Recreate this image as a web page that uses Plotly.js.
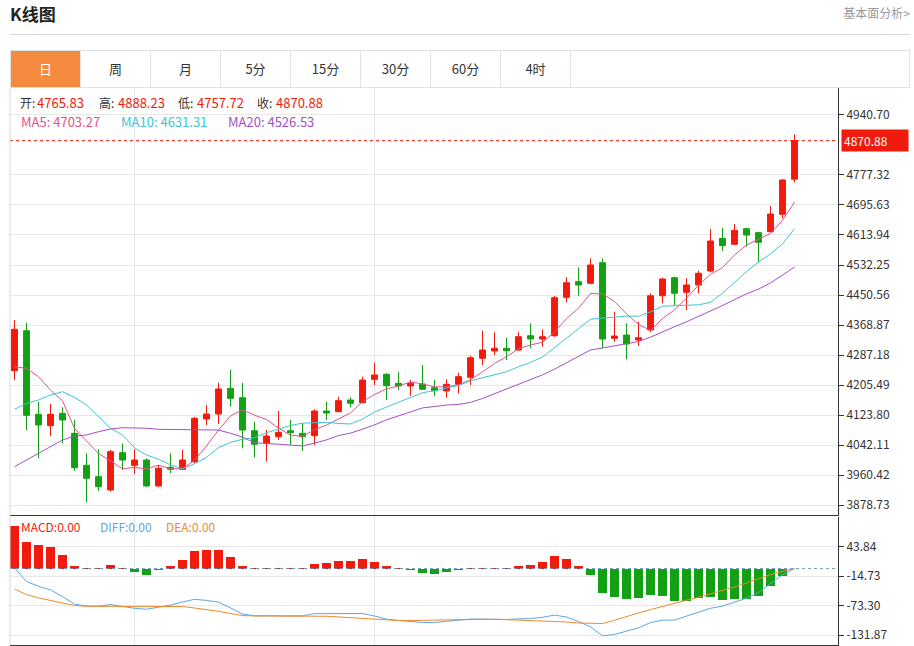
<!DOCTYPE html>
<html><head><meta charset="utf-8">
<script src="https://cdn.plot.ly/plotly-3.0.1.min.js"></script>
<style>
body{margin:0;background:#fff;width:914px;height:646px;overflow:hidden;font-family:"Noto Sans CJK SC","Noto Sans",sans-serif;}
#chart{position:absolute;left:0;top:0;width:914px;height:646px;}
#title{position:absolute;left:10px;top:2px;font-size:17px;font-weight:bold;color:#222;line-height:24px;}
#link{position:absolute;right:4px;top:4px;font-size:12px;color:#999;line-height:18px;}
#rule{position:absolute;left:10px;top:34px;width:900px;height:1px;background:#d9d9d9;}
#tabs{position:absolute;left:10px;top:50px;width:900px;height:38px;border:1px solid #e2e2e2;box-sizing:border-box;display:flex;}
#tabs span{display:block;width:70px;height:36px;line-height:36px;text-align:center;font-size:13px;color:#333;border-right:1px solid #e2e2e2;box-sizing:border-box;}
#tabs span.on{background:#f58b3e;color:#fff;}
</style></head><body>
<div id="chart"></div>
<div id="title">K线图</div>
<div id="link">基本面分析&gt;</div>
<div id="rule"></div>
<div id="tabs"></div>
<script>
// ---------- data ----------
const tabLabels = ['日','周','月','5分','15分','30分','60分','4时'];

const openP = [4244.4,4353.3,4125.7,4094.6,4128.4,4073.9,3986.8,3955.8,3919.6,4021.2,
3986.8,4001.3,3930.5,3981.4,3975.9,3996.6,4112.9,4126.5,4196.5,4170.9,
4081.0,4047.5,4064.7,4081.0,4073.9,4067.4,4134.7,4132.8,4164.6,4157.3,
4221.0,4234.6,4210.1,4202.8,4208.2,4198.1,4189.2,4207.4,4226.4,4278.2,
4298.0,4305.4,4300.8,4339.7,4330.7,4339.7,4444.3,4486.8,4482.4,4538.5,
4332.6,4341.6,4328.0,4355.2,4448.6,4497.7,4457.9,4477.8,4515.9,4604.9,
4588.6,4631.1,4620.2,4622.9,4670.3,4765.83];

const highP = [4382.5,4375.1,4160.0,4153.8,4144.8,4110.2,4019.5,4030.4,4028.5,4046.7,
4030.4,4005.9,3987.6,4019.5,4028.5,4118.4,4151.0,4211.7,4246.3,4211.7,
4105.5,4082.9,4134.7,4110.2,4101.2,4139.3,4160.0,4173.6,4172.0,4228.1,
4266.2,4237.4,4240.0,4219.1,4259.9,4219.1,4221.0,4239.0,4285.3,4353.3,
4349.0,4334.3,4349.0,4373.5,4357.1,4447.8,4498.7,4526.0,4550.5,4550.5,
4405.1,4373.5,4377.8,4455.2,4497.7,4500.4,4496.0,4516.7,4630.2,4633.8,
4643.9,4633.8,4622.9,4692.9,4766.4,4888.23];

const lowP = [4219.1,4082.9,4005.9,4066.6,4046.7,3972.1,3886.1,3916.8,3915.0,3974.0,
3963.1,3928.5,3928.0,3965.0,3974.0,3993.1,4096.5,4099.3,4146.4,4033.1,
4008.6,3997.5,4055.7,4042.1,4025.8,4042.1,4110.2,4132.0,4144.8,4155.7,
4205.5,4164.6,4191.8,4175.5,4193.8,4175.5,4170.9,4182.9,4205.5,4259.9,
4287.2,4273.5,4298.9,4305.4,4309.7,4337.0,4430.7,4448.6,4479.9,4305.4,
4323.4,4275.4,4311.7,4349.0,4427.9,4423.3,4409.7,4455.2,4512.3,4570.3,
4586.7,4582.1,4539.6,4621.3,4659.4,4757.72];

const closeP = [4357.1,4123.0,4096.6,4125.7,4110.2,3980.3,3951.4,3928.5,4023.9,4001.3,
4001.3,3930.5,3978.6,3975.9,4001.3,4114.8,4126.5,4194.6,4169.2,4082.9,
4044.0,4066.6,4076.7,4075.6,4064.7,4134.7,4129.2,4162.7,4155.7,4219.1,
4232.7,4203.6,4202.8,4210.1,4193.8,4189.9,4207.4,4228.1,4279.8,4300.8,
4305.4,4298.9,4337.0,4330.7,4337.0,4443.2,4484.0,4477.8,4532.2,4330.7,
4338.9,4317.1,4334.3,4448.6,4494.1,4455.2,4477.8,4509.6,4597.6,4584.8,
4626.7,4613.9,4594.0,4671.1,4763.7,4870.88];

const ma5 = [4255.3,4250.9,4228.1,4191.8,4162.5,4087.2,4052.8,4019.2,3998.9,3977.1,
3981.3,3977.1,3987.1,3977.5,3977.5,4000.2,4039.4,4082.6,4121.3,4137.6,
4123.4,4111.5,4087.9,4069.2,4065.5,4083.7,4096.2,4113.4,4129.4,4160.3,
4179.9,4194.8,4202.8,4213.7,4208.6,4200.0,4200.8,4205.9,4219.8,4241.2,
4264.3,4282.6,4304.4,4314.6,4321.8,4349.4,4386.4,4414.5,4454.8,4453.6,
4432.7,4399.3,4370.6,4353.9,4386.6,4409.9,4442.0,4477.1,4506.9,4525.0,
4559.3,4586.5,4603.4,4618.1,4653.9,4703.27];

const ma10 = [4139.3,4155.6,4164.6,4178.2,4187.2,4172.0,4151.0,4119.1,4087.6,4069.8,
4034.3,4015.0,4003.2,3988.2,3977.3,3990.8,4008.3,4034.9,4049.4,4057.6,
4061.8,4075.5,4085.3,4095.3,4101.6,4103.6,4103.9,4100.7,4099.3,4112.9,
4131.8,4145.5,4158.1,4171.6,4184.5,4190.0,4197.8,4204.4,4216.8,4224.9,
4232.2,4241.7,4255.2,4267.2,4281.5,4306.9,4334.5,4359.5,4384.7,4387.7,
4391.1,4392.9,4392.6,4404.4,4420.1,4421.3,4420.7,4423.9,4430.4,4455.8,
4484.6,4514.3,4540.3,4562.5,4589.5,4631.31];

const ma20 = [3983.0,4001.2,4019.5,4037.5,4055.7,4066.6,4069.3,4078.3,4085.6,4089.2,
4089.2,4087.6,4084.8,4084.8,4084.8,4084.8,4084.8,4082.9,4073.9,4063.7,
4048.1,4045.3,4044.3,4041.8,4039.5,4047.2,4056.1,4067.8,4074.4,4085.3,
4096.8,4110.5,4121.7,4133.5,4143.1,4146.8,4150.9,4152.6,4158.1,4168.9,
4182.0,4193.6,4206.7,4219.4,4233.0,4248.5,4266.2,4282.0,4300.8,4306.3,
4311.7,4317.3,4323.9,4335.8,4350.8,4364.1,4377.6,4391.7,4407.6,4421.8,
4437.9,4453.6,4466.5,4483.5,4504.8,4526.53];

const macdHist = [84.0,52.2,46.3,42.3,27.8,6.0,0.6,0.3,6.6,0.3,
-6.7,-11.9,-3.4,4.6,17.9,34.3,36.3,36.3,22.4,6.0,
0.4,0.3,0.2,0.3,0.5,9.1,11.1,14.5,15.9,19.1,
13.1,4.6,0.5,-3.4,-8.7,-9.9,-7.3,-3.4,0.8,0.8,
0.3,0.5,4.6,6.6,13.1,24.4,19.9,6.0,-12.7,-48.4,
-56.4,-60.4,-59.0,-51.6,-55.2,-65.1,-63.7,-58.4,-57.0,-61.5,
-59.6,-60.4,-55.2,-35.1,-13.9,0];

const diffL = [1.5,-25.6,-35.1,-42.3,-55.6,-70.4,-74.5,-74.6,-71.5,-75.2,
-78.8,-80.8,-76.5,-72.5,-66.4,-61.0,-63.2,-66.6,-78.1,-90.3,
-93.8,-93.9,-93.9,-93.9,-93.8,-89.5,-89.2,-88.8,-89.4,-89.2,
-94.1,-100.3,-103.0,-104.9,-107.0,-107.0,-105.0,-102.3,-100.2,-100.2,
-100.5,-101.1,-99.7,-99.3,-96.7,-92.4,-96.1,-105.0,-115.6,-133.4,
-130.8,-124.9,-117.6,-107.2,-102.4,-102.1,-94.8,-86.2,-78.9,-74.5,
-66.3,-58.8,-47.5,-29.5,-12.4,0];

const deaL = [-40.5,-51.7,-58.3,-63.5,-69.5,-73.4,-74.8,-74.8,-74.8,-75.4,
-75.4,-74.8,-74.8,-74.8,-75.4,-78.2,-81.4,-84.8,-89.3,-93.3,
-94.0,-94.0,-94.0,-94.0,-94.0,-94.0,-94.7,-96.0,-97.3,-98.7,
-100.6,-102.6,-103.2,-103.2,-102.6,-102.0,-101.3,-100.6,-100.6,-100.6,
-100.6,-101.3,-102.0,-102.6,-103.2,-104.6,-106.0,-108.0,-109.2,-109.2,
-102.6,-94.7,-88.1,-81.4,-74.8,-69.5,-62.9,-57.0,-50.4,-43.7,
-36.5,-28.6,-19.9,-11.9,-5.4,0];

const priceTickLabels = ['3878.73','3960.42','4042.11','4123.80','4205.49','4287.18','4368.87',
'4450.56','4532.25','4613.94','4695.63','4777.32','4940.70'];
const macdTickLabels = ['43.84','-14.73','-73.30','-131.87'];
const gridDays = [10, 30];

// ---------- style ----------
const RED = '#f11b0d', GREEN = '#14a014';
const C_MA5 = '#e4538c', C_MA10 = '#3ec6d4', C_MA20 = '#a350c4';
const C_DIFF = '#5ba8e6', C_DEA = '#f08a2c';
const FONT = '"Noto Sans CJK SC","Noto Sans",sans-serif';

// tabs
const tabs = document.getElementById('tabs');
tabLabels.forEach((t,i)=>{const s=document.createElement('span');s.textContent=t;if(i===0)s.className='on';tabs.appendChild(s);});

const idx = closeP.map((_,i)=>i);
const n = closeP.length;

// pixel helpers for plot area (x 10..838, y 88..645)
const pa = px => (px-10)/828;
const pb = py => (645-py)/557;

const traces = [
 {type:'candlestick', x:idx, open:openP, high:highP, low:lowP, close:closeP,
  xaxis:'x', yaxis:'y', whiskerwidth:0, hoverinfo:'skip',
  increasing:{line:{color:RED,width:1}, fillcolor:RED},
  decreasing:{line:{color:GREEN,width:1}, fillcolor:GREEN}},
 {type:'scatter', mode:'lines', x:idx, y:ma5, xaxis:'x', yaxis:'y', line:{color:C_MA5,width:1}, hoverinfo:'skip'},
 {type:'scatter', mode:'lines', x:idx, y:ma10, xaxis:'x', yaxis:'y', line:{color:C_MA10,width:1}, hoverinfo:'skip'},
 {type:'scatter', mode:'lines', x:idx, y:ma20, xaxis:'x', yaxis:'y', line:{color:C_MA20,width:1}, hoverinfo:'skip'},
 {type:'bar', x:idx, y:macdHist, xaxis:'x2', yaxis:'y2', width:0.75,
  marker:{color:macdHist.map(v=>v>=0?RED:GREEN), line:{width:0}}, hoverinfo:'skip'},
 {type:'scatter', mode:'lines', x:idx, y:diffL, xaxis:'x2', yaxis:'y2', line:{color:C_DIFF,width:1}, hoverinfo:'skip'},
 {type:'scatter', mode:'lines', x:idx, y:deaL, xaxis:'x2', yaxis:'y2', line:{color:C_DEA,width:1}, hoverinfo:'skip'}
];

function ann(px, py, text, color, size){
  return {xref:'paper', yref:'paper', x:pa(px), y:pb(py), xanchor:'left', yanchor:'middle',
    text:text, showarrow:false, font:{family:FONT, size:size||12, color:color}};
}
const last = n-1;
const f2 = v => v.toFixed(2);
const annotations = [
  ann(18,102,'开:', '#333',12), ann(35,102,f2(openP[last]), RED,13),
  ann(97,102,'高:', '#333',12), ann(116,102,f2(highP[last]), RED,13),
  ann(176,102,'低:', '#333',12), ann(195,102,f2(lowP[last]), RED,13),
  ann(255,102,'收:', '#333',12), ann(274,102,f2(closeP[last]), RED,13),
  ann(19,121,'MA5: '+f2(ma5[last]), C_MA5,13),
  ann(119,121,'MA10: '+f2(ma10[last]), C_MA10,13),
  ann(226,121,'MA20: '+f2(ma20[last]), C_MA20,13),
  ann(19,526,'MACD:'+f2(macdHist[last]), RED,12),
  ann(98,526,'DIFF:'+f2(diffL[last]), C_DIFF,12),
  ann(164,526,'DEA:'+f2(deaL[last]), C_DEA,12),
  {xref:'paper', yref:'y', x:pa(841), y:closeP[last], xanchor:'left', yanchor:'middle',
   text:f2(closeP[last]), showarrow:false, bgcolor:RED, borderpad:2, width:62, align:'left',
   font:{family:FONT,size:12,color:'#fff'}}
];

const shapes = [
  {type:'line', xref:'paper', yref:'y', x0:0, x1:1, y0:closeP[last], y1:closeP[last],
   line:{color:RED,width:1,dash:'dot'}},
  {type:'line', xref:'paper', yref:'y2', x0:0, x1:1, y0:0, y1:0,
   line:{color:'#6f9fb6',width:1,dash:'dot'}},
  {type:'line', xref:'paper', yref:'paper', x0:0, x1:0, y0:0, y1:1,
   line:{color:'#d8d8d8',width:1}}
];

const xr = [-0.375, 68.625];
const layout = {
  width:914, height:646,
  margin:{l:10, r:76, t:88, b:1, pad:0},
  paper_bgcolor:'rgba(0,0,0,0)', plot_bgcolor:'#fff',
  showlegend:false, boxgap:0.3, bargap:0,
  font:{family:FONT, size:12, color:'#333'},
  xaxis:{domain:[0,1], anchor:'y', range:xr, tickvals:gridDays, showticklabels:false, ticks:'',
    showgrid:true, gridcolor:'#e2e8ee', zeroline:false, showline:true, linecolor:'#333', linewidth:1,
    rangeslider:{visible:false}, fixedrange:true},
  yaxis:{domain:[pb(515),1], anchor:'x', side:'right', range:[3851.5, 5014.2],
    tickvals:priceTickLabels.map(Number), ticktext:priceTickLabels,
    showgrid:true, gridcolor:'#e8e8e8', zeroline:false, showline:true, linecolor:'#333', linewidth:1,
    ticks:'outside', ticklen:5, tickcolor:'#333', tickfont:{family:FONT,size:12,color:'#333'}, fixedrange:true},
  xaxis2:{domain:[0,1], anchor:'y2', range:xr, tickvals:gridDays, showticklabels:false, ticks:'',
    showgrid:true, gridcolor:'#e2e8ee', zeroline:false, showline:true, linecolor:'#333', linewidth:1, fixedrange:true},
  yaxis2:{domain:[0,pb(517)], anchor:'x2', side:'right', range:[-151.72, 102.41],
    tickvals:macdTickLabels.map(Number), ticktext:macdTickLabels,
    showgrid:true, gridcolor:'#e8e8e8', zeroline:false, showline:true, linecolor:'#333', linewidth:1,
    ticks:'outside', ticklen:5, tickcolor:'#333', tickfont:{family:FONT,size:12,color:'#333'}, fixedrange:true},
  annotations:annotations, shapes:shapes
};

Plotly.newPlot('chart', traces, layout, {staticPlot:true, displayModeBar:false});
</script>
</body></html>
